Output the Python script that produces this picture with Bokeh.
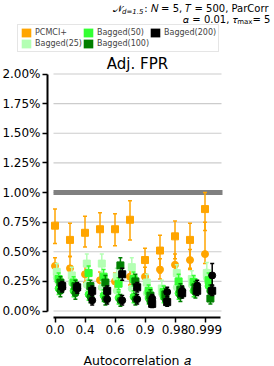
import numpy as np
from bokeh.plotting import figure
from bokeh.models import (ColumnDataSource, Range1d, FixedTicker, NumeralTickFormatter,
                          Label, Legend, LegendItem)
from bokeh.embed import file_html
from bokeh.resources import INLINE

# ---------------- data (values in percent) ----------------
autocorr = ["0.0", "0.2", "0.4", "0.5", "0.6", "0.8", "0.9", "0.95", "0.98", "0.99", "0.999"]
labeled_ticks = [0, 2, 4, 6, 8, 10]
methods = ["PCMCI+", "Bagged(25)", "Bagged(50)", "Bagged(100)", "Bagged(200)"]
colors = ["#ffa500", "#b3ffb3", "#33ff33", "#007f00", "#000000"]
offsets = [0.0, 0.12, 0.24, 0.36, 0.48]

pcmci_sq = [0.72, 0.60, 0.66, 0.69, 0.69, 0.77, 0.43, 0.51, 0.63, 0.60, 0.86]
pcmci_sq_lo = [0.57, 0.46, 0.54, 0.54, 0.55, 0.60, 0.30, 0.32, 0.44, 0.36, 0.68]
pcmci_sq_hi = [0.86, 0.74, 0.80, 0.83, 0.82, 0.93, 0.53, 0.64, 0.76, 0.74, 1.00]
pcmci_ci = [0.38, 0.36, 0.31, 0.26, 0.25, 0.29, 0.29, 0.35, 0.39, 0.43, 0.48]
pcmci_ci_lo = [0.31, 0.28, 0.24, 0.19, 0.17, 0.22, 0.22, 0.27, 0.31, 0.35, 0.40]
pcmci_ci_hi = [0.45, 0.46, 0.38, 0.33, 0.32, 0.37, 0.37, 0.44, 0.48, 0.52, 0.75]

b25_sq = [0.33, 0.30, 0.40, 0.40, 0.29, 0.37, 0.24, 0.19, 0.32, 0.27, 0.32]
b25_sq_lo = [0.27, 0.24, 0.33, 0.33, 0.23, 0.30, 0.18, 0.14, 0.26, 0.21, 0.25]
b25_sq_hi = [0.40, 0.37, 0.48, 0.48, 0.36, 0.45, 0.31, 0.26, 0.39, 0.34, 0.41]
b25_ci = [0.28, 0.24, 0.22, 0.20, 0.17, 0.19, 0.15, 0.15, 0.20, 0.22, 0.28]
b25_ci_lo = [0.23, 0.19, 0.17, 0.15, 0.12, 0.14, 0.10, 0.10, 0.15, 0.17, 0.22]
b25_ci_hi = [0.33, 0.29, 0.27, 0.25, 0.22, 0.24, 0.20, 0.20, 0.25, 0.28, 0.35]

b50_sq = [0.27, 0.24, 0.32, 0.29, 0.23, 0.27, 0.17, 0.16, 0.25, 0.245, 0.26]
b50_sq_lo = [0.22, 0.19, 0.26, 0.23, 0.18, 0.21, 0.12, 0.11, 0.19, 0.19, 0.20]
b50_sq_hi = [0.32, 0.29, 0.38, 0.35, 0.28, 0.33, 0.22, 0.21, 0.31, 0.30, 0.32]
b50_ci = [0.19, 0.17, 0.14, 0.13, 0.11, 0.12, 0.11, 0.12, 0.15, 0.17, 0.21]
b50_ci_lo = [0.14, 0.12, 0.09, 0.08, 0.06, 0.07, 0.06, 0.07, 0.10, 0.12, 0.16]
b50_ci_hi = [0.24, 0.22, 0.19, 0.18, 0.16, 0.17, 0.16, 0.17, 0.20, 0.22, 0.27]

b100_sq = [0.24, 0.21, 0.21, 0.24, 0.385, 0.25, 0.13, 0.14, 0.18, 0.20, 0.105]
b100_sq_lo = [0.19, 0.16, 0.16, 0.18, 0.32, 0.19, 0.08, 0.09, 0.13, 0.15, 0.06]
b100_sq_hi = [0.29, 0.26, 0.26, 0.30, 0.45, 0.31, 0.18, 0.19, 0.23, 0.25, 0.16]
b100_ci = [0.17, 0.15, 0.12, 0.10, 0.09, 0.10, 0.08, 0.10, 0.13, 0.16, 0.17]
b100_ci_lo = [0.12, 0.10, 0.07, 0.05, 0.04, 0.05, 0.04, 0.05, 0.08, 0.11, 0.12]
b100_ci_hi = [0.22, 0.20, 0.17, 0.15, 0.14, 0.15, 0.13, 0.15, 0.18, 0.21, 0.22]

b200_sq = [0.21, 0.20, 0.17, 0.17, 0.31, 0.20, 0.06, 0.075, 0.15, 0.17, 0.17]
b200_sq_lo = [0.17, 0.16, 0.13, 0.13, 0.26, 0.16, 0.03, 0.04, 0.11, 0.13, 0.13]
b200_sq_hi = [0.25, 0.24, 0.21, 0.21, 0.36, 0.24, 0.10, 0.11, 0.19, 0.21, 0.21]
b200_ci = [0.20, 0.19, 0.09, 0.10, 0.09, 0.10, 0.105, 0.16, 0.17, 0.215, 0.30]
b200_ci_lo = [0.16, 0.15, 0.05, 0.06, 0.05, 0.06, 0.07, 0.12, 0.13, 0.17, 0.22]
b200_ci_hi = [0.24, 0.23, 0.13, 0.14, 0.13, 0.14, 0.14, 0.20, 0.21, 0.26, 0.40]

y_ticks = [0.0, 0.0025, 0.005, 0.0075, 0.01, 0.0125, 0.015, 0.0175, 0.02]
alpha_level = 0.01

series = [
    (pcmci_sq, pcmci_sq_lo, pcmci_sq_hi, pcmci_ci, pcmci_ci_lo, pcmci_ci_hi),
    (b25_sq, b25_sq_lo, b25_sq_hi, b25_ci, b25_ci_lo, b25_ci_hi),
    (b50_sq, b50_sq_lo, b50_sq_hi, b50_ci, b50_ci_lo, b50_ci_hi),
    (b100_sq, b100_sq_lo, b100_sq_hi, b100_ci, b100_ci_lo, b100_ci_hi),
    (b200_sq, b200_sq_lo, b200_sq_hi, b200_ci, b200_ci_lo, b200_ci_hi),
]

# ---------------- layout constants (pixels) ----------------
FONT = "DejaVu Sans"
W, H = 274, 366
X0_PX, X_STEP = 54.5, 15.0          # pixel of first category, pixels per category
Y0_PX, Y_PER_PCT = 310.5, 118.5     # pixel of 0 %, pixels per 1 %
YAXIS_PX, XAXIS_PX = 47.0, 317.0


def px2x(px):
    return (px - X0_PX) / X_STEP


def px2y(py):
    return (Y0_PX - py) / Y_PER_PCT / 100.0


p = figure(width=W, height=H, output_backend="svg", toolbar_location=None,
           x_range=Range1d(px2x(0), px2x(W)), y_range=Range1d(px2y(H), px2y(0)),
           min_border_left=0, min_border_right=0, min_border_top=0, min_border_bottom=0)
p.outline_line_color = None
p.xgrid.visible = False
p.ygrid.visible = False
p.title.visible = False
p.background_fill_color = "white"
p.border_fill_color = "white"

# grid + alpha line
n_grid = len(y_ticks)
g0, g1 = px2x(53), px2x(221)
p.segment(x0=[g0] * n_grid, x1=[g1] * n_grid, y0=y_ticks, y1=y_ticks,
          line_color="#cccccc", line_width=1.2)
p.segment(x0=[g0], x1=[px2x(222)], y0=[alpha_level], y1=[alpha_level],
          line_color="#808080", line_width=5)

# data
idx = np.arange(len(autocorr))
for (sq, sq_lo, sq_hi, ci, ci_lo, ci_hi), col, off in zip(series, colors, offsets):
    src = ColumnDataSource(dict(
        x=idx + off,
        sq=np.array(sq) / 100, sq_lo=np.array(sq_lo) / 100, sq_hi=np.array(sq_hi) / 100,
        ci=np.array(ci) / 100, ci_lo=np.array(ci_lo) / 100, ci_hi=np.array(ci_hi) / 100,
    ))
    for lo, hi in (("sq_lo", "sq_hi"), ("ci_lo", "ci_hi")):
        p.segment(x0="x", x1="x", y0=lo, y1=hi, source=src, line_color=col, line_width=1.5)
        p.scatter(x="x", y=lo, source=src, marker="dash", size=4, line_color=col, line_width=1.5)
        p.scatter(x="x", y=hi, source=src, marker="dash", size=4, line_color=col, line_width=1.5)
    p.scatter(x="x", y="sq", source=src, marker="square", size=7, fill_color=col, line_color=col)
    p.scatter(x="x", y="ci", source=src, marker="circle", size=7, fill_color=col, line_color=col)

# axes, drawn at fixed locations inside the canvas
yax = p.yaxis[0]
xax = p.xaxis[0]
yax.fixed_location = px2x(YAXIS_PX)
xax.fixed_location = px2y(XAXIS_PX)
yax.ticker = FixedTicker(ticks=y_ticks)
yax.formatter = NumeralTickFormatter(format="0.00%")
yax.bounds = (0.0, 0.02)
xax.ticker = FixedTicker(ticks=labeled_ticks)
xax.major_label_overrides = {i: autocorr[i] for i in labeled_ticks}
xax.bounds = (px2x(53), px2x(220))
xax.axis_label = "Autocorrelation \U0001D44E"
xax.axis_label_text_font = FONT
xax.axis_label_text_font_size = "12.5px"
xax.axis_label_text_font_style = "normal"
xax.axis_label_text_color = "black"
xax.axis_label_standoff = 16
for ax in (xax, yax):
    ax.axis_line_width = 2
    ax.axis_line_color = "black"
    ax.major_tick_line_width = 1.5
    ax.major_tick_line_color = "black"
    ax.major_tick_out = 5
    ax.major_tick_in = 0
    ax.minor_tick_out = 0
    ax.minor_tick_in = 0
    ax.major_label_text_font = FONT
    ax.major_label_text_font_size = "12px"
    ax.major_label_text_color = "black"
    ax.major_label_standoff = 2


# texts (screen units: frame == canvas, origin bottom-left)
def lab(text, x, y, size, align="left", style="normal"):
    p.add_layout(Label(x=x, y=H - y, x_units="screen", y_units="screen", text=text,
                       text_font=FONT, text_font_size=size, text_align=align,
                       text_baseline="middle", text_font_style=style, text_color="black"))


lab(": \U0001D441 = 5, \U0001D447 = 500, ParCorr", 268, 8, "10px", align="right")
lab("d=1.5", 143, 11.5, "7px", align="right", style="italic")
lab("\U0001D4A9", 122, 8, "10px", align="right")
lab(" = 5", 273, 18.5, "10px", align="right")
lab("max", 252, 21, "7px", align="right")
lab("\U0001D6FC = 0.01, \U0001D70F", 237, 18.5, "10px", align="right")
lab("Adj. FPR", 137, 63, "15px", align="center")

# legend
items = []
for name, col in zip(methods, colors):
    r = p.quad(left=[np.nan], right=[np.nan], top=[np.nan], bottom=[np.nan],
               fill_color=col, line_color=None)
    items.append(LegendItem(label=name, renderers=[r]))
legend = Legend(items=items, location=(17, H - 52), orientation="vertical", nrows=2,
                label_text_font=FONT, label_text_font_size="8px",
                glyph_width=12, glyph_height=11, label_height=11,
                padding=2, margin=0, spacing=0, label_standoff=3,
                border_line_color="#cccccc", border_line_width=1,
                background_fill_color="white", background_fill_alpha=1.0)
p.add_layout(legend)

open("out.html", "w").write(file_html(p, INLINE))
